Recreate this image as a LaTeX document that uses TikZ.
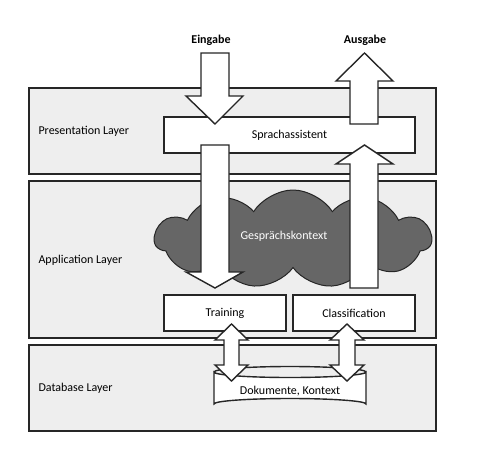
\documentclass[tikz,border=0pt]{standalone}
\usepackage{fontspec}
\setmainfont{Carlito}
\usetikzlibrary{shapes.symbols}
\definecolor{layerfill}{HTML}{EEEEEE}
\definecolor{cloudfill}{HTML}{666666}
\begin{document}
\begin{tikzpicture}[x=1pt,y=-1pt,
  layer/.style={draw=black!85,fill=layerfill,line width=1.4pt,minimum width=407pt,inner sep=0pt},
  box/.style={draw=black!85,fill=white,line width=1.4pt,inner sep=0pt,font=\fontsize{12}{14}\selectfont},
  blk/.style={draw=black!85,fill=white,line width=1.4pt,line join=miter},
  lbl/.style={anchor=west,font=\fontsize{12}{14}\selectfont},
  every node/.style={text=black}]
\useasboundingbox (0,0) rectangle (477,448);
% layers
\node[layer,minimum height=86pt] (pres) at (232.5,131) {};
\node[layer,minimum height=157pt] (app) at (232.5,259.5) {};
\node[layer,minimum height=86pt] (db) at (232.5,388) {};
\node[lbl] (presl) at (35,131) {Presentation Layer};
\node[lbl] (appl) at (35,260) {Application Layer};
\node[lbl] (dbl) at (35,388) {Database Layer};
% main box
\node[box,minimum width=251pt,minimum height=36pt] (sa) at (289.5,135) {Sprachassistent};
% cloud
\node[cloud,cloud puffs=11,cloud puff arc=115,aspect=2.8,draw=black!85,fill=cloudfill,line width=1pt,minimum width=277pt,minimum height=98pt,inner sep=0pt] (ctx) at (293,239) {};
\node[text=white,font=\fontsize{12}{14}\selectfont] (ctxl) at (284,236) {Gesprächskontext};
% boxes
\node[box,minimum width=122pt,minimum height=36pt] (tr) at (225,313) {Training};
\node[box,minimum width=122pt,minimum height=36pt] (cl) at (354,313) {Classification};
% database cylinder
\path[blk] (214,372) -- (214,404) arc[start angle=180,end angle=360,x radius=76,y radius=5.5] -- (366,372) arc[start angle=0,end angle=180,x radius=76,y radius=5.5] -- cycle;
\draw[blk,fill=none] (214,372) arc[start angle=180,end angle=360,x radius=76,y radius=5.5];
\node[font=\fontsize{12}{14}\selectfont] (dok) at (290,391) {Dokumente, Kontext};
% labels
\node[font=\bfseries\fontsize{12}{14}\selectfont] (ein) at (211,40) {Eingabe};
\node[font=\bfseries\fontsize{12}{14}\selectfont] (aus) at (365,40) {Ausgabe};
% Eingabe arrows (down)
\path[blk] (201,53) -- (229,53) -- (229,96) -- (243,96) -- (215,124) -- (186,96) -- (201,96) -- cycle;
\path[blk] (201,145) -- (229,145) -- (229,272) -- (243,272) -- (215,288) -- (186,272) -- (201,272) -- cycle;
% Ausgabe arrows (up)
\path[blk] (350,124) -- (378,124) -- (378,81) -- (393,81) -- (364.5,53) -- (336,81) -- (350,81) -- cycle;
\path[blk] (350,288) -- (378,288) -- (378,164) -- (393,164) -- (364.5,145) -- (336,164) -- (350,164) -- cycle;
% double arrows
\path[blk] (231.5,324) -- (248,340) -- (239,340) -- (239,365) -- (248,365) -- (231.5,381) -- (215,365) -- (224,365) -- (224,340) -- (215,340) -- cycle;
\path[blk] (347,324) -- (364,340) -- (355,340) -- (355,365) -- (364,365) -- (347,381) -- (330,365) -- (339,365) -- (339,340) -- (330,340) -- cycle;
\end{tikzpicture}
\end{document}
